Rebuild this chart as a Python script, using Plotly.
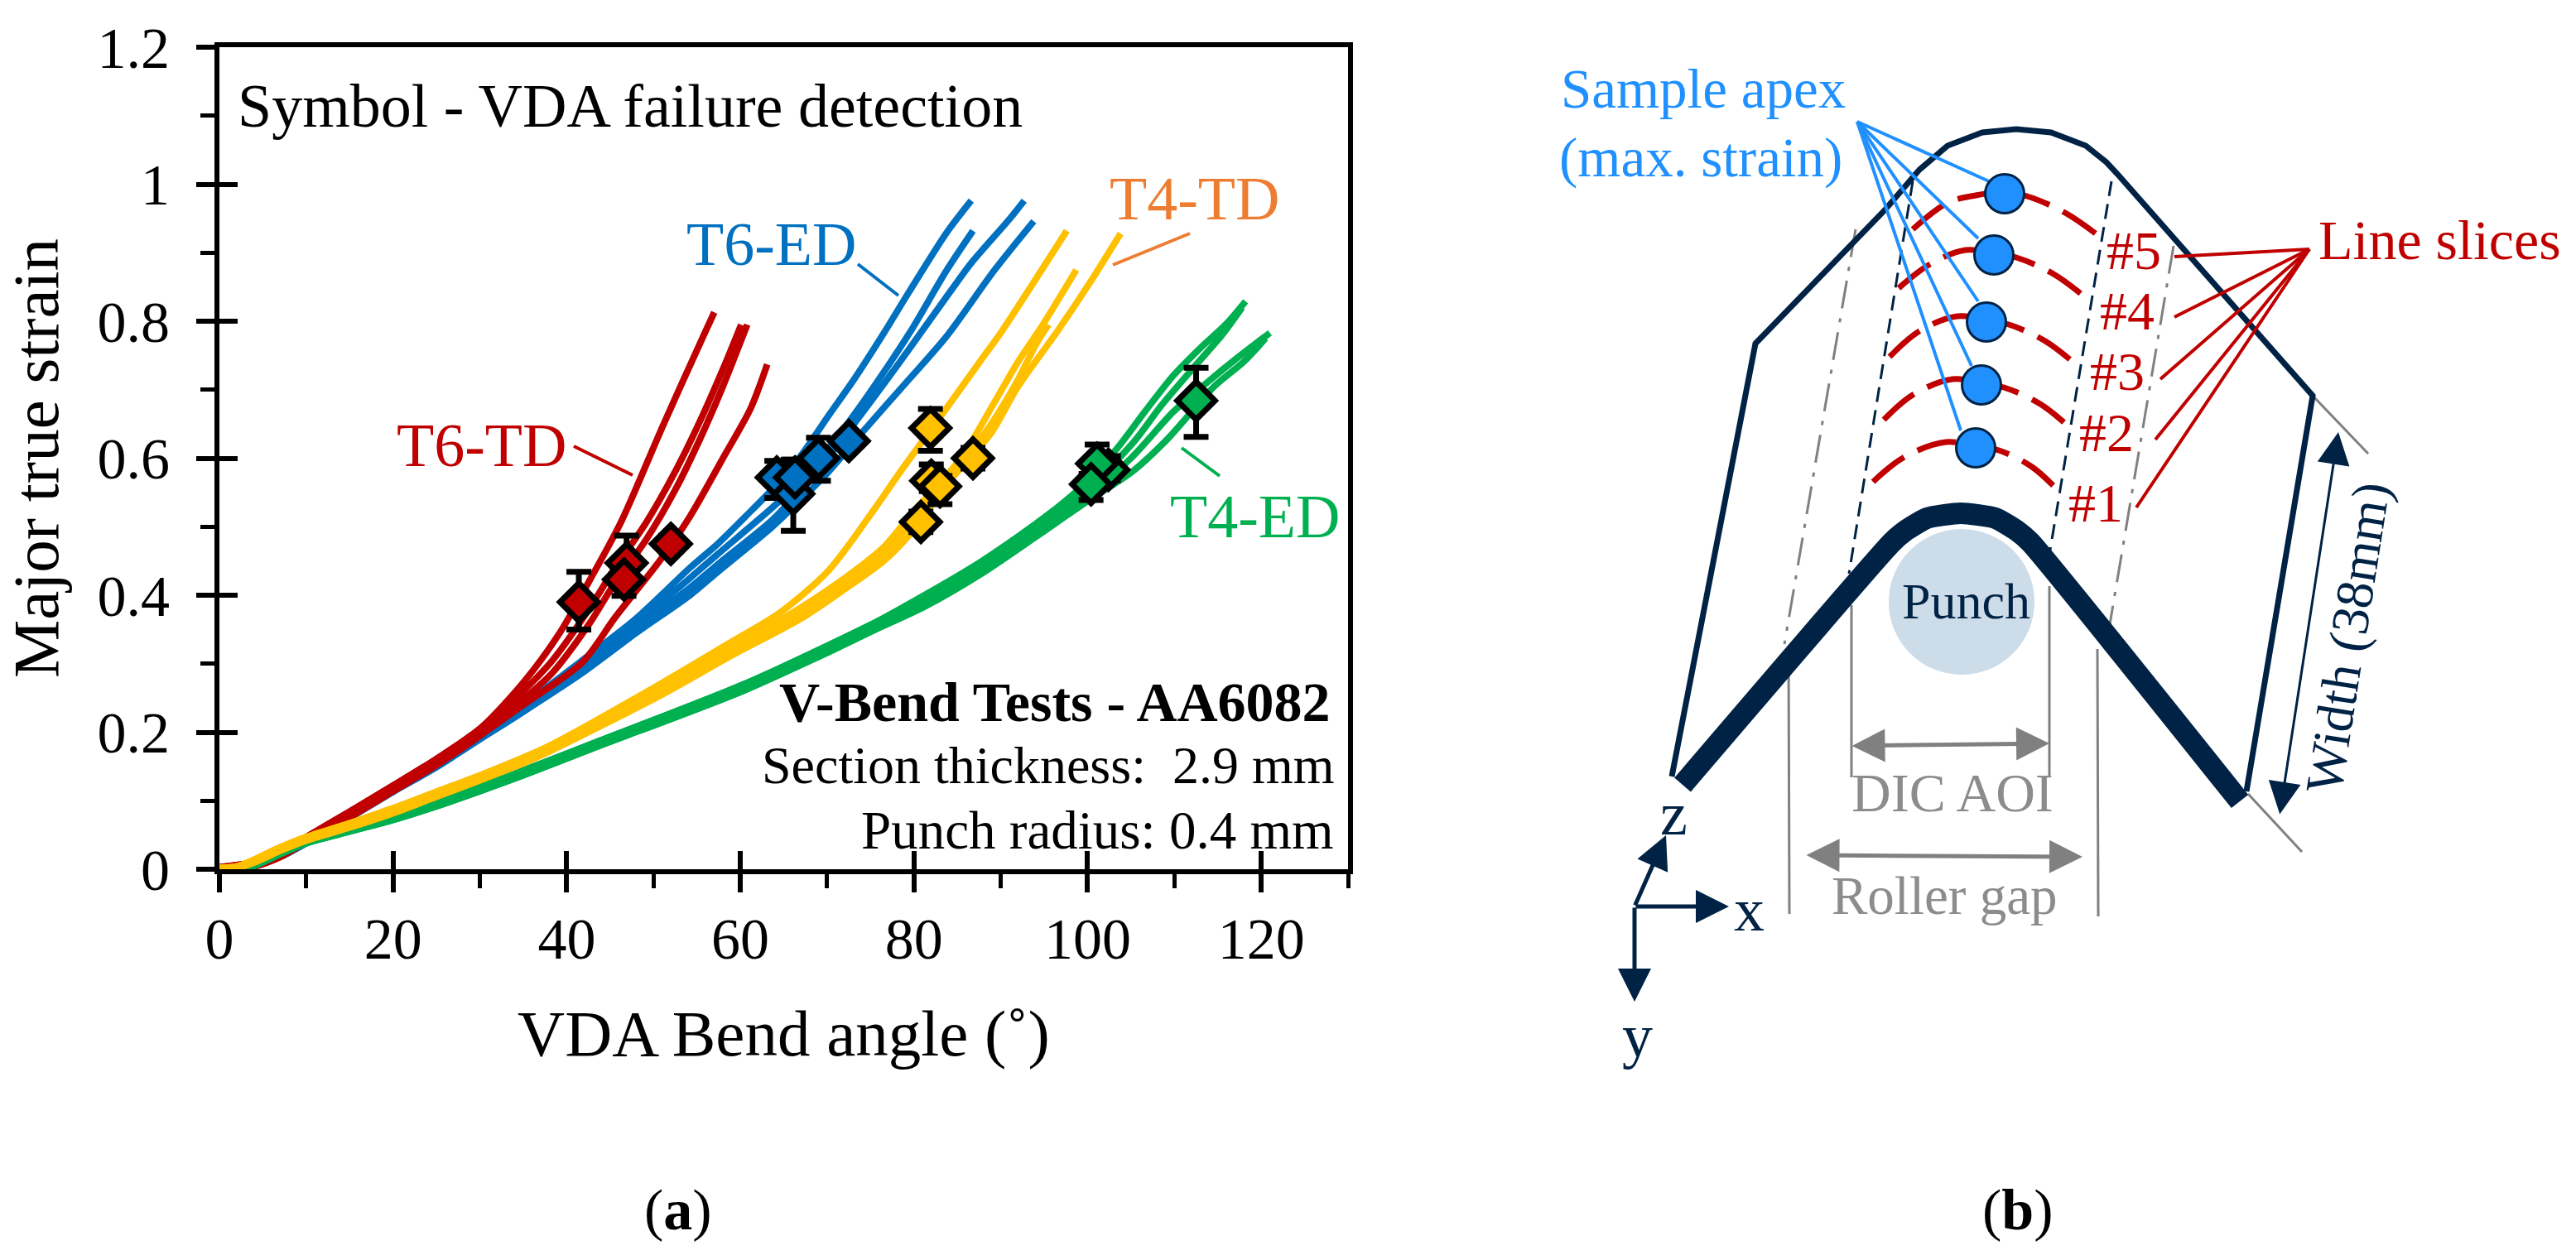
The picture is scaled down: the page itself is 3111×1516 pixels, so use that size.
import plotly.graph_objects as go

W, H = 3111, 1516
SERIF = "Liberation Serif"
RED, BLUE, YEL, GRN, ORG = "#C00000", "#0070C0", "#FFC000", "#00B050", "#ED7D31"
NAVY, GREY, SKY = "#002244", "#808080", "#2090FF"

# ---------- panel (a): curves ----------
red_low_x = [0, 2, 4, 7, 10, 15, 20, 25, 30]
red_up_y = [.003, .006, .01, .024, .047, .084, .122, .161, .205]
red_dn_y = [0, .001, .004, .018, .04, .076, .114, .152, .195]
t6td_1_x = red_low_x + [35.1, 39.3, 42.7, 46.3, 51, 55.8, 57]
t6td_1_y = red_up_y + [.274, .347, .423, .508, .645, .78, .813]
t6td_2_x = red_low_x + [34.8, 38.3, 42.7, 45.3, 49.1, 52.6, 55.5, 58, 60.1]
t6td_2_y = red_up_y + [.258, .304, .382, .435, .505, .583, .658, .73, .795]
t6td_3_x = red_low_x + [34.8, 38.3, 42.7, 45.3, 49.1, 52.6, 55.5, 58, 60.8]
t6td_3_y = red_dn_y + [.246, .286, .36, .413, .48, .556, .632, .705, .795]
t6td_4_x = red_low_x + [35, 41.8, 45.6, 50.7, 54.2, 58, 61.2, 63.1]
t6td_4_y = red_dn_y + [.24, .302, .368, .45, .515, .6, .673, .737]

blue_low_x = [0, 2, 4, 7, 10, 15, 20, 25, 30, 35]
blue_up_y = [0, .002, .008, .022, .043, .08, .118, .155, .197, .24]
blue_dn_y = [0, .002, .006, .018, .038, .075, .113, .149, .19, .23]
t6ed_a_x = blue_low_x + [41.5, 47.9, 54.2, 57.4, 60.6, 63.7, 67, 70.1, 73.2, 76.5, 79.4, 83.8, 86.6]
t6ed_a_y = blue_up_y + [.302, .365, .44, .475, .515, .555, .604, .661, .717, .782, .842, .93, .976]
t6ed_b_x = blue_low_x + [41.5, 47.9, 54.2, 57.4, 63.7, 67, 70, 73.2, 76.5, 79.6, 83.8, 86.8]
t6ed_b_y = blue_up_y + [.3, .36, .425, .46, .528, .568, .612, .665, .725, .785, .875, .932]
t6ed_c_x = blue_low_x + [41.5, 47.9, 54.2, 57.4, 63.7, 67, 70, 73.2, 76.5, 79.6, 84, 86.6, 91, 92.7]
t6ed_c_y = blue_dn_y + [.29, .352, .411, .445, .51, .555, .6, .652, .708, .762, .84, .885, .949, .976]
t6ed_d_x = blue_low_x + [41.5, 47.9, 54.2, 57.4, 63.7, 67, 70, 74.2, 79, 83.7, 89.3, 93.8]
t6ed_d_y = blue_dn_y + [.284, .344, .4, .434, .5, .54, .578, .64, .709, .777, .875, .946]

yel_low_x = [0, 2, 4, 7, 10, 15, 20, 25, 30, 35, 38]
yel_up_y = [.002, .004, .014, .032, .047, .067, .089, .113, .137, .163, .18]
yel_dn_y = [0, .002, .01, .027, .042, .061, .082, .106, .13, .155, .172]
t4td_a_x = yel_low_x + [51, 59, 64.4, 70.1, 74.9, 78.7, 83.7, 87.6, 90.1, 97.6]
t4td_a_y = yel_up_y + [.272, .332, .373, .435, .516, .585, .672, .741, .785, .932]
t4td_b_x = yel_low_x + [51, 59, 63.7, 67, 71.7, 76.5, 79.6, 85.4, 89.2, 92, 94.6, 98.7]
t4td_b_y = yel_up_y + [.268, .322, .357, .382, .422, .47, .517, .6, .68, .741, .79, .875]
t4td_c_x = yel_low_x + [51, 59, 67, 71.7, 76.5, 79.6, 84, 88.9, 92, 96.5, 100.3, 103.8]
t4td_c_y = yel_dn_y + [.255, .312, .366, .406, .45, .49, .565, .637, .705, .785, .857, .928]
t4td_d_x = yel_low_x + [51, 59, 67, 71.7, 76.5, 79.6, 85, 88.9, 92, 94, 95.5]
t4td_d_y = yel_dn_y + [.26, .316, .372, .412, .46, .505, .585, .65, .715, .765, .795]

grn_low_x = [0, 2, 4, 7, 10, 15, 20, 25, 30, 35, 43.1, 60.6, 74.9]
grn_up_y = [0, .001, .006, .024, .04, .058, .077, .098, .12, .144, .184, .271, .356]
grn_dn_y = [0, .001, .005, .022, .038, .055, .072, .092, .114, .137, .177, .262, .346]
t4ed_a_x = grn_low_x + [81.2, 87.6, 93.9, 97.1, 100.3, 103.5, 106.6, 109.9, 113, 115.9, 118.2]
t4ed_a_y = grn_up_y + [.4, .448, .503, .534, .57, .616, .668, .721, .761, .795, .829]
t4ed_b_x = grn_low_x + [81.2, 87.6, 93.9, 97.1, 100.3, 105.4, 108.5, 112.4, 115.5, 117.8]
t4ed_b_y = grn_up_y + [.395, .443, .496, .527, .558, .625, .677, .735, .78, .82]
t4ed_c_x = grn_low_x + [81.2, 87.6, 93.9, 97.1, 100.3, 105, 109.9, 114, 117.1, 121]
t4ed_c_y = grn_dn_y + [.389, .436, .49, .52, .548, .6, .668, .713, .745, .783]
t4ed_d_x = grn_low_x + [81.2, 87.6, 93.9, 97.1, 100.3, 105.1, 109.2, 114.6, 118, 120.5]
t4ed_d_y = grn_dn_y + [.383, .43, .484, .512, .54, .58, .628, .705, .741, .775]

# ---------- panel (a): failure markers ----------
t6td_mx = [41.4, 46.9, 46.6, 52]
t6td_my = [.39, .447, .423, .475]
t6td_up = [.044, .04, .02, .012]
t6td_dn = [.04, .02, .024, .012]
t6ed_mx = [72.5, 69, 64.2, 66.1, 66.3]
t6ed_my = [.625, .60, .572, .548, .572]
t6ed_up = [.01, .03, .024, .05, .026]
t6ed_dn = [.01, .033, .03, .054, .01]
t4td_mx = [81.9, 86.8, 80.8, 82, 83]
t4td_my = [.644, .60, .507, .567, .559]
t4td_up = [.028, .015, .015, .024, .015]
t4td_dn = [.033, .015, .015, .015, .026]
t4ed_mx = [112.5, 102.4, 101.1, 100.4]
t4ed_my = [.684, .583, .592, .562]
t4ed_up = [.048, .02, .028, .015]
t4ed_dn = [.053, .015, .02, .023]

x_major = [0, 20, 40, 60, 80, 100, 120]
y_major = [0, .2, .4, .6, .8, 1, 1.2]
y_labels = ["0", "0.2", "0.4", "0.6", "0.8", "1", "1.2"]

# ---------- schematic (b), read in page pixels ----------
outline_x = [2019, 2120, 2276, 2318, 2352, 2394, 2435, 2477, 2519, 2544, 2557, 2793, 2713]
outline_y = [938, 415, 254, 205, 176, 160, 156, 160, 176, 196, 210, 478, 956]
sheet_x = [2032, 2285, 2300, 2327, 2368, 2410, 2437, 2452, 2705]
sheet_y = [948, 655, 642, 626, 620, 626, 642, 655, 968]
punch_x, punch_y = [2369], [727]
dots_x = [2386, 2393, 2399, 2408, 2421]
dots_y = [541, 465, 389, 308, 234]
arc1_x = [2262, 2300, 2350, 2386, 2414, 2454, 2487]
arc1_y = [582, 552, 534, 539, 544, 564, 594]
arc2_x = [2275, 2310, 2358, 2393, 2420, 2464, 2499]
arc2_y = [507, 477, 458, 463, 468, 488, 516]
arc3_x = [2282, 2318, 2364, 2399, 2426, 2470, 2509]
arc3_y = [431, 400, 382, 387, 392, 412, 442]
arc4_x = [2293, 2331, 2374, 2408, 2435, 2480, 2517]
arc4_y = [348, 319, 302, 306, 311, 331, 358]
arc5_x = [2310, 2352, 2386, 2421, 2448, 2494, 2536]
arc5_y = [277, 245, 236, 232, 237, 257, 286]
dash_left_x, dash_left_y = [2310, 2233], [219, 693]
dash_right_x, dash_right_y = [2550, 2475], [219, 670]
dd_left_x, dd_left_y = [2241, 2155], [277, 778]
dd_right_x, dd_right_y = [2625, 2546], [297, 766]
vlines = [([2160, 2161], [781, 1104]), ([2236, 2236], [731, 939]),
          ([2475, 2475], [708, 939]), ([2533, 2534], [784, 1107]),
          ([2793, 2860], [478, 548]), ([2715, 2780], [959, 1029])]
apex_ends_x = [2402, 2389, 2389, 2381, 2368]
apex_ends_y = [219, 288, 364, 442, 520]
apex_origin = (2243, 147)
slice_ends_x = [2626, 2626, 2609, 2603, 2580]
slice_ends_y = [310, 383, 458, 531, 613]
slice_origin = (2789, 301)
leader_lines = [([693, 764], [539, 574], RED), ([1036, 1085], [319, 357], BLUE),
                ([1437, 1344], [282, 320], ORG), ([1427, 1473], [541, 575], GRN)]

fig = go.Figure()


def curve(x, y, color):
    fig.add_trace(go.Scatter(x=x, y=y, mode="lines", showlegend=False, hoverinfo="skip",
                             line=dict(color=color, width=8, shape="spline", smoothing=0.8)))


for x, y in [(t6ed_a_x, t6ed_a_y), (t6ed_b_x, t6ed_b_y), (t6ed_c_x, t6ed_c_y), (t6ed_d_x, t6ed_d_y)]:
    curve(x, y, BLUE)
for x, y in [(t6td_1_x, t6td_1_y), (t6td_2_x, t6td_2_y), (t6td_3_x, t6td_3_y), (t6td_4_x, t6td_4_y)]:
    curve(x, y, RED)
for x, y in [(t4ed_a_x, t4ed_a_y), (t4ed_b_x, t4ed_b_y), (t4ed_c_x, t4ed_c_y), (t4ed_d_x, t4ed_d_y)]:
    curve(x, y, GRN)
for x, y in [(t4td_a_x, t4td_a_y), (t4td_b_x, t4td_b_y), (t4td_c_x, t4td_c_y), (t4td_d_x, t4td_d_y)]:
    curve(x, y, YEL)

for mx, my, up, dn, col, nm in [(t4ed_mx, t4ed_my, t4ed_up, t4ed_dn, GRN, "T4-ED"),
                                (t4td_mx, t4td_my, t4td_up, t4td_dn, YEL, "T4-TD"),
                                (t6ed_mx, t6ed_my, t6ed_up, t6ed_dn, BLUE, "T6-ED"),
                                (t6td_mx, t6td_my, t6td_up, t6td_dn, RED, "T6-TD")]:
    fig.add_trace(go.Scatter(x=mx, y=my, mode="markers", name=nm, showlegend=False,
                             marker=dict(symbol="diamond", size=35, color=col,
                                         line=dict(color="black", width=7)),
                             error_y=dict(type="data", symmetric=False, array=up, arrayminus=dn,
                                          color="black", thickness=7, width=15)))

# overlay axes only carry the inward half of the crossing major ticks
fig.add_trace(go.Scatter(x=[None], y=[None], xaxis="x2", yaxis="y2", showlegend=False, hoverinfo="skip"))


def s(x, y, color, width, dash="solid", shape="linear", smoothing=1.0):
    fig.add_trace(go.Scatter(x=x, y=y, xaxis="x3", yaxis="y3", mode="lines", showlegend=False,
                             hoverinfo="skip",
                             line=dict(color=color, width=width, dash=dash, shape=shape, smoothing=smoothing)))


for lx, ly, col in leader_lines:
    s(lx, ly, col, 4)

fig.add_trace(go.Scatter(x=punch_x, y=punch_y, xaxis="x3", yaxis="y3", mode="markers", showlegend=False,
                         hoverinfo="skip", marker=dict(size=176, color="#CCDCE9", line=dict(width=0))))
s(dd_left_x, dd_left_y, GREY, 3, "34px,12px,5px,12px")
s(dd_right_x, dd_right_y, GREY, 3, "34px,12px,5px,12px")
s(dash_left_x, dash_left_y, NAVY, 3, "18px,10px")
s(dash_right_x, dash_right_y, NAVY, 3, "18px,10px")
for vx, vy in vlines:
    s(vx, vy, GREY, 3)
s(outline_x, outline_y, NAVY, 7)
s(sheet_x, sheet_y, NAVY, 26, shape="spline", smoothing=0.5)
for ax_, ay_ in [(arc1_x, arc1_y), (arc2_x, arc2_y), (arc3_x, arc3_y), (arc4_x, arc4_y), (arc5_x, arc5_y)]:
    s(ax_, ay_, RED, 7, "48px,18px", "spline", 1.0)
for ex, ey in zip(apex_ends_x, apex_ends_y):
    s([apex_origin[0], ex], [apex_origin[1], ey], SKY, 4)
for ex, ey in zip(slice_ends_x, slice_ends_y):
    s([slice_origin[0], ex], [slice_origin[1], ey], RED, 4)
fig.add_trace(go.Scatter(x=dots_x, y=dots_y, xaxis="x3", yaxis="y3", mode="markers", showlegend=False,
                         hoverinfo="skip", marker=dict(size=47, color=SKY, line=dict(color=NAVY, width=3))))

texts = [
    ("Symbol - VDA failure detection", 761, 128, 74, "black", "center"),
    ("T6-TD", 582, 538, 74, RED, "center"),
    ("T6-ED", 932, 295, 74, BLUE, "center"),
    ("T4-TD", 1443, 240, 74, ORG, "center"),
    ("T4-ED", 1516, 624, 74, GRN, "center"),
    ("<b>V-Bend Tests - AA6082</b>", 1274, 848, 68, "black", "center"),
    ("Section thickness:  2.9 mm", 1266, 924, 64, "black", "center"),
    ("Punch radius: 0.4 mm", 1325, 1003, 65, "black", "center"),
    ("(<b>a</b>)", 819, 1461, 70, "black", "center"),
    ("(<b>b</b>)", 2437, 1461, 70, "black", "center"),
    ("Sample apex", 2057, 107, 67, SKY, "center"),
    ("(max. strain)", 2054, 190, 67, SKY, "center"),
    ("Line slices", 2946, 290, 68, RED, "center"),
    ("#5", 2577, 302, 66, RED, "center"),
    ("#4", 2569, 375, 66, RED, "center"),
    ("#3", 2557, 448, 66, RED, "center"),
    ("#2", 2544, 522, 66, RED, "center"),
    ("#1", 2531, 607, 66, RED, "center"),
    ("Punch", 2374, 726, 62, NAVY, "center"),
    ("DIC AOI", 2358, 957, 66, "#8C8C8C", "center"),
    ("Roller gap", 2348, 1082, 65, "#8C8C8C", "center"),
    ("z", 2021, 983, 74, NAVY, "center"),
    ("x", 2112, 1099, 74, NAVY, "center"),
    ("y", 1977, 1251, 74, NAVY, "center"),
]
ann = []
for t, x, y, size, col, anc in texts:
    ann.append(dict(text=t, x=x, y=y, xref="x3", yref="y3", showarrow=False, xanchor=anc, yanchor="middle",
                    font=dict(family=SERIF, size=size, color=col)))
ann.append(dict(text="Width (38mm)", x=2835, y=770, xref="x3", yref="y3", showarrow=False, textangle=-81,
                font=dict(family=SERIF, size=64, color=NAVY)))

arrows = [
    (2235, 901, 2475, 898, GREY, 5, "start+end"),
    (2180, 1033, 2515, 1035, GREY, 5, "start+end"),
    (2753, 985, 2824, 522, NAVY, 3, "start+end"),
    (1974, 1095, 2088, 1095, NAVY, 5, "end"),
    (1974, 1095, 2012, 1009, NAVY, 5, "end"),
    (1974, 1095, 1974, 1210, NAVY, 5, "end"),
]
for x0, y0, x1, y1, col, w, side in arrows:
    ann.append(dict(text="", x=x1, y=y1, ax=x0, ay=y0, xref="x3", yref="y3", axref="x3", ayref="y3",
                    showarrow=True, arrowhead=2, arrowside=side, arrowsize=1.6 if w >= 5 else 2.6,
                    arrowwidth=w, arrowcolor=col))

x_dom = [265 / W, 1628 / W]
y_dom = [1 - 1050 / H, 1 - 57 / H]
tick_font = dict(family=SERIF, size=70, color="black")

fig.update_layout(
    template="none",
    width=W, height=H, autosize=False, margin=dict(l=0, r=0, t=0, b=0, pad=0, autoexpand=False),
    paper_bgcolor="white", plot_bgcolor="rgba(0,0,0,0)", showlegend=False,
    annotations=ann,
    xaxis=dict(domain=x_dom, anchor="y", range=[0, 130], showgrid=False, zeroline=False, automargin=False,
               showline=True, mirror=True, linecolor="black", linewidth=6, layer="below traces",
               tickmode="array", tickvals=x_major, ticktext=[str(v) for v in x_major],
               ticks="outside", ticklen=22, tickwidth=6, tickcolor="black", tickfont=tick_font,
               ticklabelstandoff=-4,
               minor=dict(tickmode="array", tickvals=[10, 30, 50, 70, 90, 110, 130], ticks="outside", ticklen=17,
                          tickwidth=5, tickcolor="black", showgrid=False),
               title=dict(text="VDA Bend angle (˚)", font=dict(family=SERIF, size=79, color="black"), standoff=50)),
    yaxis=dict(domain=y_dom, anchor="x", range=[0, 1.2], showgrid=False, zeroline=False, automargin=False,
               showline=True, mirror=True, linecolor="black", linewidth=6, layer="below traces",
               tickmode="array", tickvals=y_major, ticktext=y_labels,
               ticks="outside", ticklen=22, tickwidth=6, tickcolor="black", tickfont=tick_font,
               ticklabelstandoff=18,
               minor=dict(tickmode="array", tickvals=[.1, .3, .5, .7, .9, 1.1], ticks="outside", ticklen=17,
                          tickwidth=5, tickcolor="black", showgrid=False),
               title=dict(text="Major true strain", font=dict(family=SERIF, size=79, color="black"), standoff=30)),
    xaxis2=dict(domain=x_dom, anchor="y2", overlaying="x", range=[0, 130], showgrid=False, zeroline=False,
                automargin=False, showline=False, tickmode="array", tickvals=x_major, ticks="inside", ticklen=22,
                tickwidth=6, tickcolor="black", showticklabels=False, layer="below traces"),
    yaxis2=dict(domain=y_dom, anchor="x2", overlaying="y", range=[0, 1.2], showgrid=False, zeroline=False,
                automargin=False, showline=False, tickmode="array", tickvals=y_major, ticks="inside", ticklen=22,
                tickwidth=6, tickcolor="black", showticklabels=False, layer="below traces"),
    xaxis3=dict(domain=[0, 1], anchor="y3", range=[0, W], visible=False, fixedrange=True, automargin=False),
    yaxis3=dict(domain=[0, 1], anchor="x3", range=[H, 0], visible=False, fixedrange=True, automargin=False),
)

fig.write_html("out.html", config={"displayModeBar": False},
               post_script="document.body.style.margin='0';document.body.style.overflow='hidden';")
